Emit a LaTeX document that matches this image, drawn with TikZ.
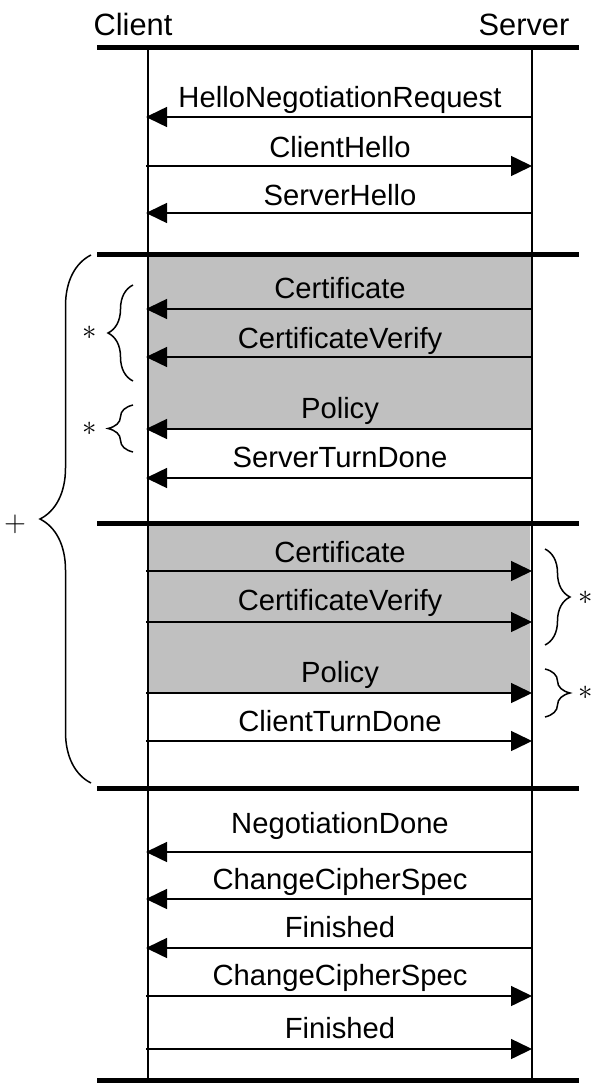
\documentclass[tikz,border=0pt]{standalone}
\usepackage{fontspec}
\setmainfont{Liberation Sans}
\usepackage{tikz}
\usetikzlibrary{arrows.meta}
\usetikzlibrary{decorations.pathreplacing}
\definecolor{boxgray}{RGB}{192,192,192}
\tikzset{msg/.style={line width=0.75pt, -{Triangle[length=10.5pt,width=10pt]}},
  lbl/.style={anchor=base, inner sep=0pt, font=\fontsize{14.6}{17}\selectfont}}

\begin{document}
\begin{tikzpicture}[x=0.5pt, y=-0.5pt,
    phase/.style={line width=2.5pt},
    life/.style={line width=0.8pt},
    grp/.style={decorate, decoration={brace, amplitude=#1}, line width=0.75pt},
    rep/.style={inner sep=0pt, font=\fontsize{14}{16}\selectfont}]
  \useasboundingbox (0,0) rectangle (592,1085);

  % optional parts of each turn
  \fill[boxgray] (148,255) rectangle (532,429);
  \fill[boxgray] (148,523) rectangle (529.5,693);

  \node[lbl, font=\fontsize{15.4}{18}\selectfont] (client) at (133,35.5) {Client};
  \node[lbl, font=\fontsize{15.4}{18}\selectfont] (server) at (524,35.5) {Server};

  \coordinate (ctop) at (148,47.5);
  \coordinate (cbot) at (148,1080.5);
  \coordinate (stop) at (532,47.5);
  \coordinate (sbot) at (532,1080.5);
  \draw[life] (ctop) -- (cbot);
  \draw[life] (stop) -- (sbot);

  \foreach \y in {47.5,255,523,788,1080.5}
    \draw[phase] (97,\y) -- (579,\y);

  % messages: number/label baseline/arrow/from/to/text
  \foreach \n/\b/\a/\from/\to/\txt in {
      1/107.5/117/s/c/HelloNegotiationRequest,
      2/157.5/166/c/s/ClientHello,
      3/205.5/213/s/c/ServerHello,
      4/298.5/309/s/c/Certificate,
      5/348.5/357/s/c/CertificateVerify,
      6/418.5/429/s/c/Policy,
      7/467.5/478/s/c/ServerTurnDone,
      8/562.5/571/c/s/Certificate,
      9/610.5/622/c/s/CertificateVerify,
      10/682.5/693/c/s/Policy,
      11/731.5/741/c/s/ClientTurnDone,
      12/833.5/852/s/c/NegotiationDone,
      13/889.5/899/s/c/ChangeCipherSpec,
      14/937.5/948/s/c/Finished,
      15/985.5/996/c/s/ChangeCipherSpec,
      16/1038.5/1049/c/s/Finished}
  {
    \coordinate (c\n) at (146,\a);
    \coordinate (s\n) at (532,\a);
    \draw[msg] (\from\n) -- (\to\n);
    \node[lbl] (m\n) at (340,\b) {\txt};
  }

  % repetition marks
  \draw[grp=25.5pt] (91,783) -- (91,255);
  \node[rep] (turns) at (15,524) {$+$};
  \draw[grp=12.5pt] (133,381) -- (133,285);
  \node[rep] (scert) at (90,333) {$*$};
  \draw[grp=12.5pt] (133,452) -- (133,405);
  \node[rep] (spol) at (90,429) {$*$};
  \draw[grp=12.5pt] (545,549) -- (545,645);
  \node[rep] (ccert) at (586,598) {$*$};
  \draw[grp=12.5pt] (545,669) -- (545,717);
  \node[rep] (cpol) at (586,693) {$*$};
\end{tikzpicture}
\end{document}
